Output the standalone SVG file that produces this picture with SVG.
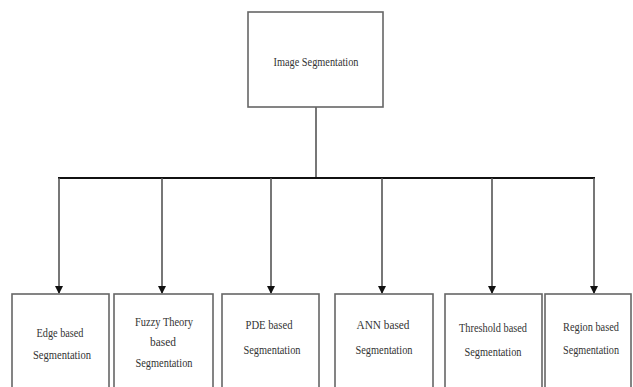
<svg xmlns="http://www.w3.org/2000/svg" width="633" height="387" viewBox="0 0 633 387">
<defs>
<marker id="arr" markerWidth="8" markerHeight="10" refX="7" refY="4" orient="auto" markerUnits="userSpaceOnUse">
<path d="M0,0 L8,4 L0,8 Z" fill="#111"/>
</marker>
<style>
.box{fill:#fff;stroke:#666;stroke-width:1.6}
.t{font-family:"Liberation Serif","Times New Roman",serif;font-size:13px;fill:#333;text-anchor:middle}
.c{stroke:#555;stroke-width:1.6;fill:none}
.h{stroke:#111;stroke-width:2;fill:none}
</style>
</defs>
<rect width="633" height="387" fill="#fff"/>
<g id="connectors">
<path class="c" d="M316,107 V178"/>
<path class="h" d="M58,178 H595"/>
<path class="c" d="M59,178 V293" marker-end="url(#arr)"/>
<path class="c" d="M162,178 V293" marker-end="url(#arr)"/>
<path class="c" d="M271,178 V293" marker-end="url(#arr)"/>
<path class="c" d="M382,178 V293" marker-end="url(#arr)"/>
<path class="c" d="M492,178 V293" marker-end="url(#arr)"/>
<path class="c" d="M594,178 V293" marker-end="url(#arr)"/>
</g>
<g id="root">
<rect class="box" x="248" y="12" width="135" height="95"/>
<text class="t" x="316" y="66" textLength="85" lengthAdjust="spacingAndGlyphs">Image Segmentation</text>
</g>
<g id="edge">
<rect class="box" x="12" y="294" width="97" height="100"/>
<text class="t" x="60" y="337" textLength="47" lengthAdjust="spacingAndGlyphs">Edge based</text>
<text class="t" x="62" y="359" textLength="58" lengthAdjust="spacingAndGlyphs">Segmentation</text>
</g>
<g id="fuzzy">
<rect class="box" x="114" y="294" width="99" height="100"/>
<text class="t" x="164" y="326" textLength="58" lengthAdjust="spacingAndGlyphs">Fuzzy Theory</text>
<text class="t" x="163" y="346" textLength="26" lengthAdjust="spacingAndGlyphs">based</text>
<text class="t" x="164" y="367" textLength="57" lengthAdjust="spacingAndGlyphs">Segmentation</text>
</g>
<g id="pde">
<rect class="box" x="222" y="294" width="97" height="100"/>
<text class="t" x="269" y="329" textLength="47" lengthAdjust="spacingAndGlyphs">PDE based</text>
<text class="t" x="272" y="354" textLength="57" lengthAdjust="spacingAndGlyphs">Segmentation</text>
</g>
<g id="ann">
<rect class="box" x="335" y="294" width="98" height="100"/>
<text class="t" x="383" y="329" textLength="53" lengthAdjust="spacingAndGlyphs">ANN based</text>
<text class="t" x="384" y="354" textLength="57" lengthAdjust="spacingAndGlyphs">Segmentation</text>
</g>
<g id="threshold">
<rect class="box" x="445" y="294" width="97" height="100"/>
<text class="t" x="493" y="332" textLength="68" lengthAdjust="spacingAndGlyphs">Threshold based</text>
<text class="t" x="493" y="356" textLength="57" lengthAdjust="spacingAndGlyphs">Segmentation</text>
</g>
<g id="region">
<rect class="box" x="545" y="294" width="86" height="100"/>
<text class="t" x="591" y="331" textLength="56" lengthAdjust="spacingAndGlyphs">Region based</text>
<text class="t" x="591" y="354" textLength="56" lengthAdjust="spacingAndGlyphs">Segmentation</text>
</g>
</svg>
